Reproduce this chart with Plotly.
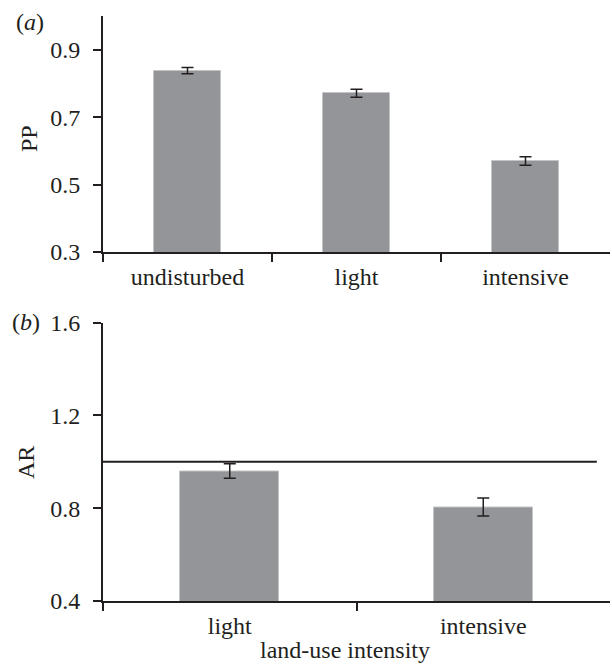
import plotly.graph_objects as go

# Panel (a): proportion of preferred prey (PP)
cats_a = ["undisturbed", "light", "intensive"]
pp_vals = [0.838, 0.771, 0.570]
pp_err = [0.009, 0.012, 0.0125]

# Panel (b): AR
cats_b = ["light", "intensive"]
ar_vals = [0.96, 0.805]
ar_err = [0.031, 0.039]
ar_ref = 1.0

W, H = 612, 668
FONT = "Liberation Serif, Times New Roman, serif"
DARK = "#231f20"
BAR = "#939598"

def py(px):
    return 1 - px / H

fig = go.Figure()
fig.add_trace(go.Bar(
    x=cats_a, y=pp_vals, width=0.40, marker=dict(color=BAR, line=dict(color="#c3c4c6", width=1)),
    error_y=dict(type="data", array=pp_err, color=DARK, thickness=1.5, width=6),
    xaxis="x", yaxis="y", showlegend=False))
fig.add_trace(go.Bar(
    x=cats_b, y=ar_vals, width=0.39, marker=dict(color=BAR, line=dict(color="#c3c4c6", width=1)),
    error_y=dict(type="data", array=ar_err, color=DARK, thickness=1.5, width=6),
    xaxis="x2", yaxis="y2", showlegend=False))

xdom = [103 / W, 610 / W]
axis_common = dict(showline=True, linecolor=DARK, linewidth=2, ticks="outside",
                   ticklen=8, tickwidth=2, tickcolor=DARK, showgrid=False, zeroline=False,
                   automargin=False,
                   tickfont=dict(family=FONT, size=24, color=DARK))

fig.update_layout(
    width=W, height=H, margin=dict(l=0, r=0, t=0, b=0, autoexpand=False),
    paper_bgcolor="white", plot_bgcolor="white",
    bargap=0,
    xaxis=dict(domain=xdom, anchor="y", type="category", tickson="boundaries",
               range=[-0.5, 2.5], ticklabelstandoff=2, **axis_common),
    yaxis=dict(domain=[py(252), py(16)], anchor="x", range=[0.3, 1.0],
               tickvals=[0.3, 0.5, 0.7, 0.9], ticktext=["0.3", "0.5", "0.7", "0.9"],
               ticklabelstandoff=8, **axis_common),
    xaxis2=dict(domain=xdom, anchor="y2", type="category", tickson="boundaries",
                range=[-0.5, 1.5], ticklabelstandoff=2, **axis_common),
    yaxis2=dict(domain=[py(601), py(322.5)], anchor="x2", range=[0.4, 1.6],
                tickvals=[0.4, 0.8, 1.2, 1.6], ticktext=["0.4", "0.8", "1.2", "1.6"],
                ticklabelstandoff=8, **axis_common),
)

fig.add_shape(type="line", xref="x2 domain", yref="y2", x0=0, x1=0.974, y0=ar_ref, y1=ar_ref,
              line=dict(color=DARK, width=2))

ann_font = dict(family=FONT, size=24, color=DARK)
fig.add_annotation(text="(<i>a</i>)", xref="paper", yref="paper", x=14 / W, y=py(22),
                   xanchor="left", yanchor="middle", showarrow=False, font=ann_font)
fig.add_annotation(text="(<i>b</i>)", xref="paper", yref="paper", x=10 / W, y=py(322),
                   xanchor="left", yanchor="middle", showarrow=False, font=ann_font)
fig.add_annotation(text="PP", xref="paper", yref="paper", x=29 / W, y=py(139),
                   xanchor="center", yanchor="middle",
                   textangle=-90, showarrow=False, font=ann_font)
fig.add_annotation(text="AR", xref="paper", yref="paper", x=26 / W, y=py(463),
                   xanchor="center", yanchor="middle",
                   textangle=-90, showarrow=False, font=ann_font)
fig.add_annotation(text="land-use intensity", xref="paper", yref="paper", x=345 / W, y=py(650),
                   xanchor="center", yanchor="middle",
                   showarrow=False, font=ann_font)

fig.write_html("out.html", config={"displayModeBar": False},
               post_script="document.body.style.margin='0';document.body.style.padding='0';")
